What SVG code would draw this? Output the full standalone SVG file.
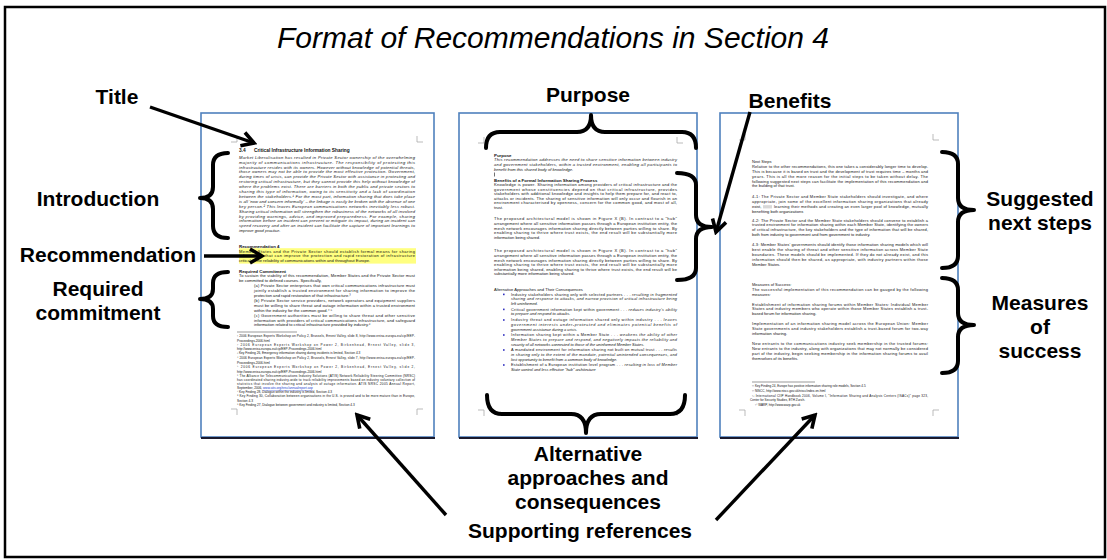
<svg xmlns="http://www.w3.org/2000/svg" width="1107" height="560" viewBox="0 0 1107 560">
<defs>
<style>
.lbl{font-family:'Liberation Sans',Arial,sans-serif;font-weight:bold;font-size:21px;fill:#000;text-anchor:middle}
.ttl{font-family:'Liberation Sans',Arial,sans-serif;font-style:italic;font-size:30px;fill:#000;text-anchor:middle}
.pg{font-family:'Liberation Sans',Arial,sans-serif;fill:#111}
.it{font-style:italic}
.b{font-weight:bold}
.page{fill:#fff;stroke:#4F81BD;stroke-width:1.6}
.shadow{stroke:#1a1a2e;stroke-width:2}
.mark{fill:none;stroke:#aaa;stroke-width:0.8}
.brace{fill:none;stroke:#000;stroke-width:4;stroke-linecap:round;stroke-linejoin:round}
.arr{fill:none;stroke:#000;stroke-width:3.4}
</style>
<marker id="ah" markerUnits="userSpaceOnUse" markerWidth="18" markerHeight="18" viewBox="0 0 18 18" refX="15" refY="9" orient="auto">
<path d="M3,2 L15,9 L3,16" fill="none" stroke="#000" stroke-width="3.6"/>
</marker>
</defs>
<rect x="0" y="0" width="1107" height="560" fill="#fff"/>
<rect x="5" y="7" width="1100" height="550" fill="none" stroke="#000" stroke-width="2.5"/>
<text class="ttl" x="553" y="48">Format of Recommendations in Section 4</text>

<g id="page1">
<rect class="page" x="201" y="113" width="233" height="324"/>
<line class="shadow" x1="201" y1="438" x2="435" y2="438"/>
<path class="mark" d="M231,142H237V136M423,142H417V136M231,409H237V415M423,409H417V415"/>
<g class="pg">
<text x="239" y="151.5" font-size="4.8" class="b">3.4<tspan x="254">Critical Infrastructure Information Sharing</tspan></text>
<g class="it" font-size="4.1">
<text x="239" y="158.7" textLength="176">Market Liberalisation has resulted in Private Sector ownership of the overwhelming</text>
<text x="239" y="163.6" textLength="176">majority of communications infrastructure. The responsibility of protecting this</text>
<text x="239" y="168.5" textLength="176">infrastructure resides with its owners. However without knowledge of potential threats,</text>
<text x="239" y="173.4" textLength="176">those owners may not be able to provide the most effective protection. Government,</text>
<text x="239" y="178.3" textLength="176">during times of crisis, can provide the Private Sector with assistance in protecting and</text>
<text x="239" y="183.2" textLength="176">restoring critical infrastructure, but they cannot provide this help without knowledge of</text>
<text x="239" y="188.1" textLength="176">where the problems exist. There are barriers in both the public and private sectors to</text>
<text x="239" y="193.0" textLength="176">sharing this type of information, owing to its sensitivity and a lack of coordination</text>
<text x="239" y="197.9" textLength="176">between the stakeholders.¹ For the most part, information sharing that does take place</text>
<text x="239" y="202.8" textLength="176">is all 'now and concern informally' – the linkage is easily be broken with the absence of one</text>
<text x="239" y="207.7" textLength="176">key person.² This leaves European communications networks inevitably less robust.</text>
<text x="239" y="212.6" textLength="176">Sharing critical information will strengthen the robustness of the networks of all involved</text>
<text x="239" y="217.5" textLength="176">by providing warnings, advice, and improved preparedness. For example, sharing</text>
<text x="239" y="222.4" textLength="176">information before an incident can prevent or mitigate its impact, during an incident can</text>
<text x="239" y="227.3" textLength="176">speed recovery and after an incident can facilitate the capture of important learnings to</text>
<text x="239" y="232.2">improve good practice.</text>
</g>
<text x="239" y="247.6" font-size="4.4" class="b">Recommendation 4</text>
<rect x="239" y="248.2" width="177" height="15.4" fill="#FFFF80"/>
<g font-size="4.1">
<text x="239" y="252.5" textLength="176">Member States and the Private Sector should establish formal means for sharing</text>
<text x="239" y="257.4" textLength="176">information that can improve the protection and rapid restoration of infrastructure</text>
<text x="239" y="262.3">critical to the reliability of communications within and throughout Europe.</text>
</g>
<text x="239" y="272.5" font-size="4.4" class="b">Required Commitment</text>
<g font-size="4.1">
<text x="239" y="277.4" textLength="176">To sustain the viability of this recommendation, Member States and the Private Sector must</text>
<text x="239" y="282.3">be committed to defined courses. Specifically,</text>
<text x="254" y="287.2" textLength="161">(a) Private Sector enterprises that own critical communications infrastructure must</text>
<text x="254" y="292.1" textLength="161">jointly establish a trusted environment for sharing information to improve the</text>
<text x="254" y="297.0">protection and rapid restoration of that infrastructure.³</text>
<text x="254" y="301.9" textLength="161">(b) Private Sector service providers, network operators and equipment suppliers</text>
<text x="254" y="306.8" textLength="161">must be willing to share threat and outage information within a trusted environment</text>
<text x="254" y="311.7">within the industry for the common good.⁴ ⁵</text>
<text x="254" y="316.6" textLength="161">(c) Government authorities must be willing to share threat and other sensitive</text>
<text x="254" y="321.5" textLength="161">information with providers of critical communications infrastructure, and safeguard</text>
<text x="254" y="326.4">information related to critical infrastructure provided by industry.⁶</text>
</g>
<line x1="237" y1="332" x2="297" y2="332" stroke="#333" stroke-width="0.5"/>
<g font-size="3.2">
<text x="237" y="337" textLength="178">¹ 2006 European Experts Workshop on Policy 2, Brussels, Ernest Valley, slide 8, http://www.enisa.europa.eu/cip/EEP-</text>
<text x="237" y="342">Proceedings-2006.html</text>
<text x="237" y="346" textLength="178">² 2006 European Experts Workshop on Power 2, Birkenhead, Ernest Valley, slide 3,</text>
<text x="237" y="350">http://www.enisa.europa.eu/cip/EEP-Proceedings-2006.html</text>
<text x="237" y="354">³ Key Finding 26, Emergency information sharing during incidents is limited, Section 4.3</text>
<text x="237" y="359" textLength="178">⁴ 2006 European Experts Workshop on Policy 2, Brussels, Ernest Valley, slide 7, http://www.enisa.europa.eu/cip/EEP-</text>
<text x="237" y="364">Proceedings-2006.html</text>
<text x="237" y="368" textLength="178">⁵ 2006 European Experts Workshop on Power 2, Birkenhead, Ernest Valley, slide 2,</text>
<text x="237" y="373">http://www.enisa.europa.eu/cip/EEP-Proceedings-2006.html</text>
<text x="237" y="377" textLength="178">⁶ The Alliance for Telecommunications Industry Solutions (ATIS) Network Reliability Steering Committee (NRSC)</text>
<text x="237" y="381" textLength="178">has coordinated sharing industry-wide to track reliability improvements based on industry voluntary collection of</text>
<text x="237" y="385" textLength="178">statistics that involve the sharing and analysis of outage information. ATIS NRSC 2005 Annual Report,</text>
<text x="237" y="389">September, 2006, <tspan fill="#2040d0" text-decoration="underline">www.atis.org/nrsc/annualreport.asp</tspan></text>
<text x="237" y="393">⁷ Key Finding 28, Dialogue within the industry is limited, Section 4.3</text>
<text x="237" y="397" textLength="178">⁸ Key Finding 30, Collaboration between organisations in the U.S. is proved and to be more mature than in Europe,</text>
<text x="237" y="402">Section 4.3</text>
<text x="237" y="406">⁹ Key Finding 27, Dialogue between government and industry is limited, Section 4.3</text>
</g>
</g>
</g>

<g id="page2">
<rect class="page" x="459" y="113" width="238" height="324"/>
<line class="shadow" x1="459" y1="438" x2="698" y2="438"/>
<path class="mark" d="M478,143H484V137M683,143H677V137M478,410H484V416M683,410H677V416"/>
<g class="pg">
<text x="494" y="156.5" font-size="4.4" class="b">Purpose</text>
<g class="it" font-size="4.1">
<text x="494" y="161.4" textLength="183">This recommendation addresses the need to share sensitive information between industry</text>
<text x="494" y="166.1" textLength="183">and government stakeholders, within a trusted environment, enabling all participants to</text>
<text x="494" y="170.8">benefit from this shared body of knowledge.</text>
</g>
<line x1="494.5" y1="172.5" x2="494.5" y2="176.5" stroke="#111" stroke-width="0.6"/>
<text x="494" y="181.5" font-size="4.4" class="b">Benefits of a Formal Information Sharing Process</text>
<g font-size="4.1">
<text x="494" y="185.9" textLength="183">Knowledge is power. Sharing information among providers of critical infrastructure and the</text>
<text x="494" y="190.5" textLength="183">government whose constituencies depend on that critical infrastructure, provides</text>
<text x="494" y="195.1" textLength="183">stakeholders with additional knowledge and insights to help them prepare for, and react to,</text>
<text x="494" y="199.7" textLength="183">attacks or incidents. The sharing of sensitive information will only occur and flourish in an</text>
<text x="494" y="204.3" textLength="183">environment characterised by openness, concern for the common good, and most of all,</text>
<text x="494" y="208.9">trust.</text>
<text x="494" y="220.4" textLength="183">The proposed architectural model is shown in Figure X (B). In contrast to a "hub"</text>
<text x="494" y="225.0" textLength="183">arrangement where all sensitive information passes through a European institution entity, the</text>
<text x="494" y="229.6" textLength="183">mesh network encourages information sharing directly between parties willing to share. By</text>
<text x="494" y="234.2" textLength="183">enabling sharing to thrive where trust exists, the end result will be substantially more</text>
<text x="494" y="238.8">information being shared.</text>
<text x="494" y="252.4" textLength="183">The proposed architectural model is shown in Figure X (B). In contrast to a "hub"</text>
<text x="494" y="257.0" textLength="183">arrangement where all sensitive information passes through a European institution entity, the</text>
<text x="494" y="261.6" textLength="183">mesh network encourages information sharing directly between parties willing to share. By</text>
<text x="494" y="266.2" textLength="183">enabling sharing to thrive where trust exists, the end result will be substantially more</text>
<text x="494" y="270.8" textLength="183">information being shared, enabling sharing to thrive where trust exists, the end result will be</text>
<text x="494" y="275.4">substantially more information being shared.</text>
<text x="494" y="291.4">Alternative Approaches and Their Consequences</text>
</g>
<g fill="#3030C0">
<rect x="503" y="293.6" width="1.6" height="1.6"/>
<rect x="503" y="308.6" width="1.6" height="1.6"/>
<rect x="503" y="319.2" width="1.6" height="1.6"/>
<rect x="503" y="334.2" width="1.6" height="1.6"/>
<rect x="503" y="349.2" width="1.6" height="1.6"/>
<rect x="503" y="364.2" width="1.6" height="1.6"/>
</g>
<g font-size="3.9">
<text x="511" y="295.7" textLength="166">Industry stakeholders sharing only with selected partners . . . <tspan class="it">resulting in fragmented</tspan></text>
<text x="511" y="300.3" class="it" textLength="166">sharing and response to attacks, and narrow provision of critical infrastructure being</text>
<text x="511" y="304.9" class="it">left uninformed.</text>
<text x="511" y="310.7" textLength="166">Critical government information kept within government . . . <tspan class="it">reduces industry's ability</tspan></text>
<text x="511" y="315.3" class="it">to prepare and respond to attacks.</text>
<text x="511" y="321.3" textLength="166">Industry threat and outage information shared only within industry . . . <tspan class="it">leaves</tspan></text>
<text x="511" y="325.9" class="it" textLength="166">government interests under-protected and eliminates potential benefits of</text>
<text x="511" y="330.5" class="it">government assistance during a crisis.</text>
<text x="511" y="336.3" textLength="166">Information sharing kept within a Member State . . . <tspan class="it">weakens the ability of other</tspan></text>
<text x="511" y="340.9" class="it" textLength="166">Member States to prepare and respond, and negatively impacts the reliability and</text>
<text x="511" y="345.5" class="it">security of all networks connected to those of the uninformed Member States.</text>
<text x="511" y="351.3" textLength="166">A mandated environment for information sharing not built on mutual trust . . . <tspan class="it">results</tspan></text>
<text x="511" y="355.9" class="it" textLength="166">in sharing only to the extent of the mandate, potential unintended consequences, and</text>
<text x="511" y="360.5" class="it">lost opportunity to benefit from a common body of knowledge.</text>
<text x="511" y="366.3" textLength="166">Establishment of a European institution level program . . . <tspan class="it">resulting in loss of Member</tspan></text>
<text x="511" y="370.9" class="it">State control and less effective "hub" architecture</text>
</g>
</g>
</g>

<g id="page3">
<rect class="page" x="720" y="113" width="238" height="324"/>
<line class="shadow" x1="720" y1="438" x2="959" y2="438"/>
<path class="mark" d="M739,140H745V134M939,140H933V134M739,410H745V416M939,410H933V416"/>
<g class="pg" font-size="4.0">
<text x="752" y="163.4">Next Steps</text>
<text x="752" y="168.2" textLength="176">Relative to the other recommendations, this one takes a considerably longer time to develop.</text>
<text x="752" y="173.0" textLength="176">This is because it is based on trust and the development of trust requires time – months and</text>
<text x="752" y="177.8" textLength="176">years. This is all the more reason for the initial steps to be taken without delay. The</text>
<text x="752" y="182.6" textLength="176">following suggested next steps can facilitate the implementation of this recommendation and</text>
<text x="752" y="187.4">the building of that trust.</text>
<text x="752" y="198.4" textLength="176">4-1: The Private Sector and Member State stakeholders should investigate, and where</text>
<text x="752" y="203.2" textLength="176">appropriate, join some of the excellent information sharing organizations that already</text>
<text x="752" y="208.0">exist,</text>
<rect x="763" y="205.2" width="9" height="3.2" fill="#d8d8d8"/>
<text x="774" y="208.0" textLength="154">learning their methods and creating an even larger pool of knowledge, mutually</text>
<text x="752" y="212.8">benefiting both organizations</text>
<text x="752" y="221.6" textLength="176">4-2: The Private Sector and the Member State stakeholders should convene to establish a</text>
<text x="752" y="226.4" textLength="176">trusted environment for information sharing within each Member State, identifying the owners</text>
<text x="752" y="231.2" textLength="176">of critical infrastructure, the key stakeholders and the type of information that will be shared,</text>
<text x="752" y="236.0">both from industry to government and from government to industry.</text>
<text x="752" y="246.0" textLength="176">4-3: Member States' governments should identify those information sharing models which will</text>
<text x="752" y="251.0" textLength="176">best enable the sharing of threat and other sensitive information across Member State</text>
<text x="752" y="256.0" textLength="176">boundaries. These models should be implemented. If they do not already exist, and this</text>
<text x="752" y="261.0" textLength="176">information should then be shared, as appropriate, with industry partners within those</text>
<text x="752" y="266.0">Member States.</text>
<text x="752" y="286.4">Measures of Success:</text>
<text x="752" y="291.0" textLength="176">The successful implementation of this recommendation can be gauged by the following</text>
<text x="752" y="295.8">measures:</text>
<text x="752" y="305.6" textLength="176">Establishment of information sharing forums within Member States: Individual Member</text>
<text x="752" y="310.4" textLength="176">States and industry members who operate within those Member States establish a trust-</text>
<text x="752" y="315.2">based forum for information sharing.</text>
<text x="752" y="325.4" textLength="176">Implementation of an information sharing model across the European Union: Member</text>
<text x="752" y="330.2" textLength="176">State governments and industry stakeholders establish a trust-based forum for two-way</text>
<text x="752" y="335.0">information sharing.</text>
<text x="752" y="345.4" textLength="176">New entrants to the communications industry seek membership in the trusted forums:</text>
<text x="752" y="350.2" textLength="176">New entrants to the industry, along with organizations that may not normally be considered</text>
<text x="752" y="355.0" textLength="176">part of the industry, begin seeking membership in the information sharing forums to avail</text>
<text x="752" y="359.8">themselves of its benefits.</text>
<line x1="752" y1="382" x2="815" y2="382" stroke="#333" stroke-width="0.5"/>
<g font-size="3.1">
<text x="752" y="387.2">¹¹ Key Finding 24, Europe has positive information sharing role models, Section 4.5</text>
<text x="752" y="392">¹² NISCC, http://www.niscc.gov.uk/niscc/index-en.html</text>
<text x="752" y="396.8" textLength="176">¹³ International CIIP Handbook 2006, Volume I, "Information Sharing and Analysis Centers (ISACs)" page 323,</text>
<text x="750" y="401.4">Center for Security Studies, ETH Zurich.</text>
<text x="755" y="405.6">¹⁴ WARP, http://www.warp.gov.uk</text>
</g>
</g>
</g>

<g id="braces">
<path class="brace" d="M228,153 Q213,153 213,165 L213,187 Q213,198 200,198 Q213,198 213,209 L213,226 Q213,238 228,238"/>
<path class="brace" d="M228,272 Q213,272 213,283 L213,289 Q213,299 200,299 Q213,299 213,309 L213,316 Q213,327 228,327"/>
<path class="brace" d="M486,148 Q486,132 500,132 L577,132 Q591,132 591,115 Q591,132 605,132 L682,132 Q696,132 696,148"/>
<path class="brace" d="M677,173 Q696,173 696,185 L696,215 Q696,227 712,227 Q696,227 696,239 L696,268 Q696,280 677,280"/>
<path class="brace" d="M487,395 Q487,414 502,414 L571,414 Q586,414 586,433 Q586,414 601,414 L670,414 Q685,414 685,395"/>
<path class="brace" d="M942,152 Q958,152 958,164 L958,198 Q958,210 974,210 Q958,210 958,222 L958,256 Q958,268 942,268"/>
<path class="brace" d="M942,278 Q958,278 958,290 L958,313 Q958,325 974,325 Q958,325 958,337 L958,361 Q958,373 942,373"/>
</g>

<g id="connectors">
<line class="arr" x1="150" y1="107" x2="254" y2="143" marker-end="url(#ah)"/>
<line class="arr" x1="204" y1="256" x2="262" y2="256" marker-end="url(#ah)"/>
<line class="arr" x1="750" y1="112" x2="716" y2="232" marker-end="url(#ah)"/>
<line class="arr" x1="446" y1="515" x2="357" y2="415" marker-end="url(#ah)"/>
<line class="arr" x1="716" y1="520" x2="815" y2="415" marker-end="url(#ah)"/>
</g>

<g id="labels">
<text class="lbl" x="117" y="104">Title</text>
<text class="lbl" x="588" y="102">Purpose</text>
<text class="lbl" x="790" y="108">Benefits</text>
<text class="lbl" x="98" y="206">Introduction</text>
<text class="lbl" x="196" y="262" style="text-anchor:end">Recommendation</text>
<text class="lbl" x="98" y="296">Required</text>
<text class="lbl" x="98" y="320">commitment</text>
<text class="lbl" x="1040" y="206">Suggested</text>
<text class="lbl" x="1040" y="230">next steps</text>
<text class="lbl" x="1040" y="310">Measures</text>
<text class="lbl" x="1040" y="334">of</text>
<text class="lbl" x="1040" y="358">success</text>
<text class="lbl" x="588" y="461">Alternative</text>
<text class="lbl" x="588" y="485">approaches and</text>
<text class="lbl" x="588" y="509">consequences</text>
<text class="lbl" x="580" y="538">Supporting references</text>
</g>
</svg>
